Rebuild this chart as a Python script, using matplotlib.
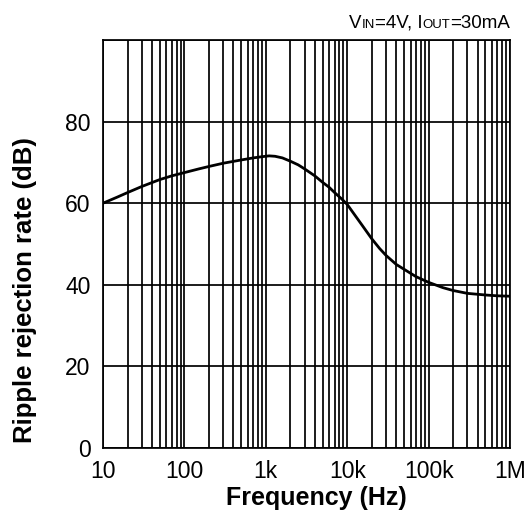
import matplotlib.pyplot as plt
from matplotlib.offsetbox import AnchoredOffsetbox, HPacker, TextArea
from matplotlib.ticker import FixedLocator, LogLocator, NullFormatter

plt.rcParams["font.family"] = ["Liberation Sans", "DejaVu Sans"]

# data
freq = [10, 15, 20, 30, 50, 70, 100, 150, 200, 300, 500, 700, 900, 1100,
        1300, 1600, 2000, 2500, 3000, 4000, 5000, 6000, 7000, 8500, 10000,
        12500, 15000, 20000, 25000, 30000, 40000, 50000, 70000, 100000,
        150000, 200000, 300000, 500000, 700000, 1000000]
rejection = [60.0, 61.5, 62.6, 64.1, 65.8, 66.7, 67.5, 68.4, 69.0, 69.8,
             70.6, 71.1, 71.4, 71.6, 71.5, 71.1, 70.3, 69.4, 68.4, 66.7,
             65.1, 63.9, 62.6, 61.1, 59.7, 57.0, 54.8, 51.3, 48.9, 47.2,
             45.0, 43.8, 42.0, 40.6, 39.3, 38.6, 37.9, 37.5, 37.3, 37.2]

x_ticks = [10, 100, 1000, 10000, 100000, 1000000]
x_labels = ["10", "100", "1k", "10k", "100k", "1M"]
y_ticks = [0, 20, 40, 60, 80]

fig = plt.figure(figsize=(5.25, 5.23), dpi=100)
ax = fig.add_axes([103 / 525, 75 / 523, 407 / 525, 408 / 523])

ax.plot(freq, rejection, color="black", lw=2.0, solid_joinstyle="round", zorder=3)

ax.set_xscale("log")
ax.set_xlim(10, 1e6)
ax.set_ylim(0, 100)
ax.set_xticks(x_ticks)
ax.set_xticklabels(x_labels)
ax.xaxis.set_minor_locator(LogLocator(base=10, subs=range(2, 10)))
ax.xaxis.set_minor_formatter(NullFormatter())
ax.yaxis.set_major_locator(FixedLocator(y_ticks + [100]))
ax.set_yticklabels([str(v) for v in y_ticks] + [""])

ax.grid(which="major", axis="both", color="black", lw=1.25)
ax.grid(which="minor", axis="x", color="black", lw=1.25)
ax.tick_params(which="both", length=0, labelsize=16.5)
ax.tick_params(axis="y", pad=9)
ax.tick_params(axis="x", pad=9)
for s in ax.spines.values():
    s.set_linewidth(1.25)

ax.set_xlabel("Frequency (Hz)", fontsize=18, fontweight="bold")
ax.set_ylabel("Ripple rejection rate (dB)", fontsize=18.5, fontweight="bold")
ax.xaxis.set_label_coords(0.525, -0.0925)
ax.yaxis.set_label_coords(-0.163, 0.387)

# condition text with small-caps style subscripts
parts = [("V", 13.5), ("IN", 9.5), ("=4V, I", 13.5), ("OUT", 9.5), ("=30mA", 13.5)]
areas = [TextArea(t, textprops=dict(fontsize=s, color="black")) for t, s in parts]
box = HPacker(children=areas, align="baseline", pad=0, sep=0)
anchored = AnchoredOffsetbox(loc="lower right", child=box, pad=0, borderpad=0,
                             frameon=False, bbox_to_anchor=(1.0, 1.02),
                             bbox_transform=ax.transAxes)
ax.add_artist(anchored)

fig.savefig("out.png", dpi=100)
